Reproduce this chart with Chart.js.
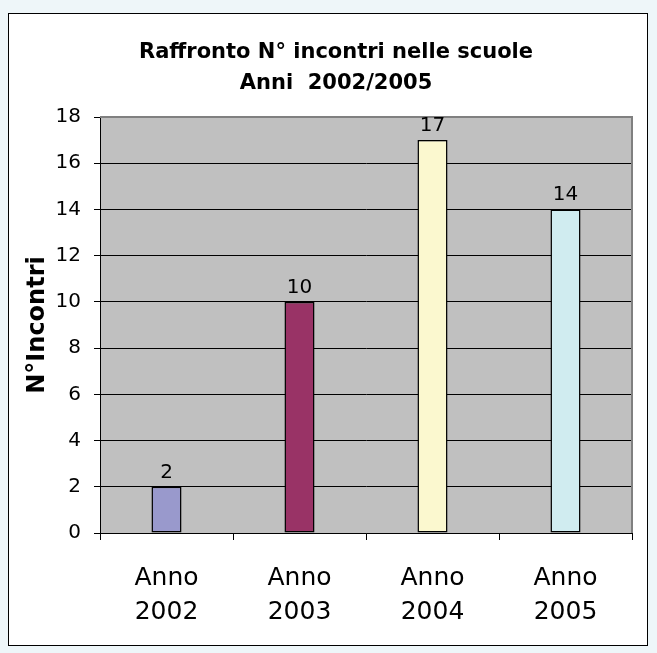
<!DOCTYPE html>
<html lang="it">
<head>
  <meta charset="UTF-8" />
  <title>Raffronto incontri</title>
  <script src="https://cdn.jsdelivr.net/npm/chart.js"></script>
  <style>
    html, body { margin: 0; padding: 0; background: #eef6f9; }
    #wrap { position: absolute; left: 0; top: 0; width: 657px; height: 653px; }
  </style>
</head>
<body>
<div id="wrap"><canvas id="chart" width="657" height="653"></canvas></div>
<script>
  // data
  const anni = [['Anno', '2002'], ['Anno', '2003'], ['Anno', '2004'], ['Anno', '2005']];
  const incontri = [2, 10, 17, 14];
  const coloriBarre = ['#9999cc', '#993366', '#fbf8cf', '#d0ecf0'];
  const titolo = ['Raffronto N\u00b0 incontri nelle scuole', 'Anni  2002/2005'];
  const titoloAsse = 'N\u00b0Incontri';
  const yMax = 18, yStep = 2;

  const FONT = '"DejaVu Sans", sans-serif';

  // white framed panel, grey plot area, value labels and title
  const pannello = {
    id: 'pannello',
    beforeDraw(chart) {
      const ctx = chart.ctx, a = chart.chartArea;
      ctx.save();
      ctx.fillStyle = '#fff';
      ctx.fillRect(8, 13, 640, 633);
      ctx.strokeStyle = '#000';
      ctx.lineWidth = 1;
      ctx.strokeRect(8.5, 13.5, 639, 632);
      ctx.fillStyle = '#c0c0c0';
      ctx.fillRect(a.left, a.top, a.right - a.left, a.bottom - a.top);
      ctx.restore();
    },
    beforeDatasetsDraw(chart) {
      const ctx = chart.ctx, a = chart.chartArea;
      ctx.save();
      ctx.strokeStyle = '#808080';
      ctx.lineWidth = 2;
      ctx.beginPath();
      ctx.moveTo(a.left, a.top);
      ctx.lineTo(a.right, a.top);
      ctx.lineTo(a.right, a.bottom);
      ctx.stroke();
      ctx.restore();
    },
    afterDatasetsDraw(chart) {
      const ctx = chart.ctx;
      ctx.save();
      ctx.font = '20px ' + FONT;
      ctx.fillStyle = '#000';
      ctx.textAlign = 'center';
      ctx.textBaseline = 'alphabetic';
      chart.getDatasetMeta(0).data.forEach((bar, i) => {
        ctx.fillText(String(incontri[i]), bar.x, bar.y - 9);
      });
      ctx.restore();
    },
    afterDraw(chart) {
      const ctx = chart.ctx;
      ctx.save();
      ctx.font = 'bold 21px ' + FONT;
      ctx.fillStyle = '#000';
      ctx.textAlign = 'center';
      ctx.textBaseline = 'alphabetic';
      ctx.fillText(titolo[0], 336, 58);
      ctx.fillText(titolo[1], 336, 89);
      ctx.restore();
    }
  };

  new Chart(document.getElementById('chart'), {
    type: 'bar',
    data: {
      labels: anni,
      datasets: [{
        data: incontri,
        backgroundColor: coloriBarre,
        borderColor: '#000',
        borderWidth: 1.5,
        borderSkipped: false,
        categoryPercentage: 1,
        barPercentage: 0.226
      }]
    },
    options: {
      responsive: false,
      animation: false,
      layout: { padding: { left: 0, top: 117, right: 25, bottom: 0 } },
      plugins: {
        legend: { display: false },
        tooltip: { enabled: false }
      },
      scales: {
        x: {
          afterFit(s) { s.height = 120; },
          grid: { drawOnChartArea: false, tickLength: 7, tickColor: '#000', offset: true },
          border: { color: '#000', width: 1 },
          ticks: { color: '#000', padding: 21, font: { family: FONT, size: 25, lineHeight: 34 / 25 } }
        },
        y: {
          min: 0,
          max: yMax,
          afterFit(s) { s.width = 100; },
          grid: {
            color: ctx => ctx.tick && ctx.tick.value === yMax ? 'rgba(0,0,0,0)' : '#000',
            tickColor: '#000',
            tickLength: 6
          },
          border: { color: '#000', width: 1 },
          ticks: { stepSize: yStep, color: '#000', padding: 13, font: { family: FONT, size: 20 } },
          title: {
            display: true,
            text: titoloAsse,
            color: '#000',
            padding: { top: 23, bottom: 0 },
            font: { family: FONT, size: 24, weight: 'bold' }
          }
        }
      }
    },
    plugins: [pannello]
  });
</script>
</body>
</html>
